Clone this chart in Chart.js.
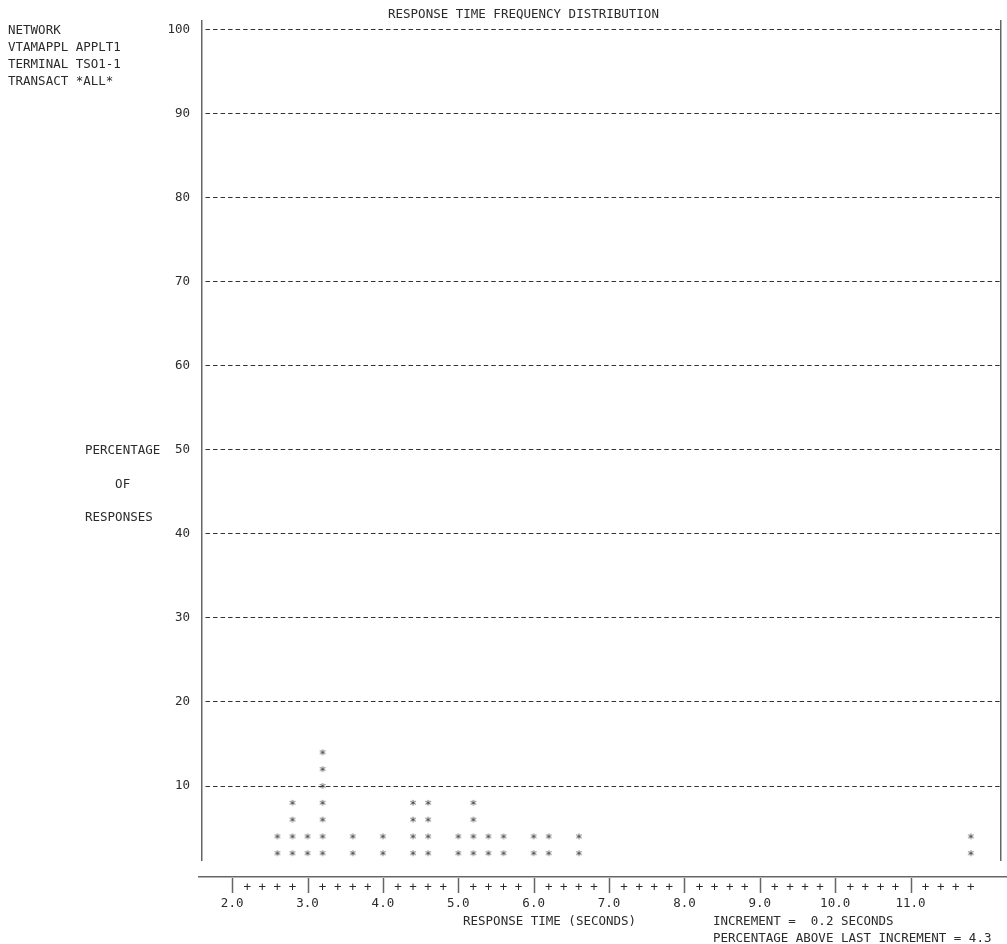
<!DOCTYPE html>
<html>
<head>
<meta charset="utf-8">
<script src="https://cdn.jsdelivr.net/npm/chart.js@4.4.1/dist/chart.umd.min.js"></script>
<style>
  html, body { margin: 0; padding: 0; background: #fff; }
  #wrap { width: 1007px; height: 944px; }
</style>
</head>
<body>
<div id="wrap"><canvas id="chart"></canvas></div>
<script>
const xLabels = [2, 3, 4, 5, 6, 7, 8, 9, 10, 11];
const yTicks = [10, 20, 30, 40, 50, 60, 70, 80, 90, 100];
const increment = 0.2;
// response time bin (seconds) and percentage of responses in it
const binTimes = [2.6, 2.8, 3.0, 3.2, 3.6, 4.0, 4.4, 4.6, 5.0, 5.2, 5.4, 5.6, 6.0, 6.2, 6.6, 11.8];
const binPercents = [4, 8, 4, 14, 4, 4, 8, 8, 4, 8, 4, 4, 4, 4, 4, 4.3];
const headerLines = ["NETWORK", "VTAMAPPL APPLT1", "TERMINAL TSO1-1", "TRANSACT *ALL*"];
const yTitleLines = ["PERCENTAGE", "    OF", "RESPONSES"];

const MONO = "DejaVu Sans Mono";
const FS = 12.5;
const TEXT = "#2b2b2b";
const LINE = "#666";

// each printed asterisk stands for 2 percent
const starPoints = [];
binTimes.forEach((t, i) => {
  const n = Math.round(binPercents[i] / 2);
  for (let k = 1; k <= n; k++) starPoints.push({ x: t, y: k * 2 });
});

function starImage() {
  const c = document.createElement("canvas");
  c.width = 12;
  c.height = 12;
  const g = c.getContext("2d");
  g.font = FS + "px '" + MONO + "'";
  g.fillStyle = "#333";
  g.textAlign = "center";
  const m = g.measureText("*");
  const base = 6 + (m.actualBoundingBoxAscent - m.actualBoundingBoxDescent) / 2;
  g.fillText("*", 6, base);
  return c;
}

const printout = {
  id: "printout",
  afterDraw(chart) {
    const ctx = chart.ctx;
    const x = chart.scales.x;
    ctx.save();
    ctx.font = FS + "px '" + MONO + "'";
    ctx.fillStyle = TEXT;
    ctx.textBaseline = "alphabetic";
    ctx.textAlign = "left";
    const cap = 4.5;

    ctx.fillText("RESPONSE TIME FREQUENCY DISTRIBUTION", 388, 13.3 + cap);
    headerLines.forEach((s, i) => ctx.fillText(s, 8, 29.3 + i * 16.9 + cap));
    ctx.fillText(yTitleLines[0], 85, 449.3 + cap);
    ctx.fillText(yTitleLines[1], 85, 483.3 + cap);
    ctx.fillText(yTitleLines[2], 85, 516.3 + cap);
    ctx.fillText("RESPONSE TIME (SECONDS)", 463, 920.5 + cap);
    ctx.fillText("INCREMENT =  0.2 SECONDS", 713, 920.5 + cap);
    ctx.fillText("PERCENTAGE ABOVE LAST INCREMENT = " + binPercents[binPercents.length - 1].toFixed(1), 713, 937 + cap);

    // printed x axis: rule, major bars and "+" increments
    ctx.strokeStyle = LINE;
    ctx.lineWidth = 1.5;
    ctx.beginPath();
    ctx.moveTo(198, 876.7);
    ctx.lineTo(chart.width, 876.7);
    xLabels.forEach(v => {
      const px = Math.round(x.getPixelForValue(v)) + 0.5;
      ctx.moveTo(px, 878);
      ctx.lineTo(px, 893);
    });
    ctx.stroke();
    ctx.textAlign = "center";
    xLabels.forEach(v => {
      for (let k = 1; k < 5; k++) {
        ctx.fillText("+", x.getPixelForValue(v + k * increment), 886.5 + cap);
      }
    });
    ctx.restore();
  },
};

const tickFont = { family: MONO, size: FS };

new Chart(document.getElementById("chart"), {
  type: "scatter",
  plugins: [printout],
  data: {
    datasets: [
      {
        data: starPoints,
        pointStyle: starImage(),
        pointRadius: 5,
      },
    ],
  },
  options: {
    responsive: true,
    maintainAspectRatio: false,
    animation: false,
    events: [],
    layout: { padding: { top: 21, right: 4, bottom: 0, left: 0 } },
    plugins: { legend: { display: false }, tooltip: { enabled: false }, title: { display: false } },
    scales: {
      x: {
        type: "linear",
        min: 1.6,
        max: 12.2,
        afterFit: s => { s.height = 84; },
        afterBuildTicks: s => { s.ticks = xLabels.map(v => ({ value: v })); },
        grid: { display: false, drawTicks: false },
        border: { display: false },
        ticks: {
          font: tickFont,
          color: TEXT,
          padding: 36,
          maxRotation: 0,
          autoSkip: false,
          callback: v => v.toFixed(1),
        },
      },
      y: {
        min: 1.2,
        max: 101,
        afterFit: s => { s.width = 202; },
        afterBuildTicks: s => { s.ticks = yTicks.map(v => ({ value: v })); },
        grid: { color: "#333", lineWidth: 1, drawTicks: false },
        border: { display: true, color: LINE, width: 1.5, dash: [4.5, 3.02], dashOffset: 4.5 },
        ticks: { font: tickFont, color: TEXT, padding: 12 },
      },
      y2: {
        position: "right",
        min: 1.2,
        max: 101,
        afterFit: s => { s.width = 0; },
        grid: { display: false, drawTicks: false },
        border: { display: true, color: LINE, width: 1.5 },
        ticks: { display: false },
      },
    },
  },
});
</script>
</body>
</html>
